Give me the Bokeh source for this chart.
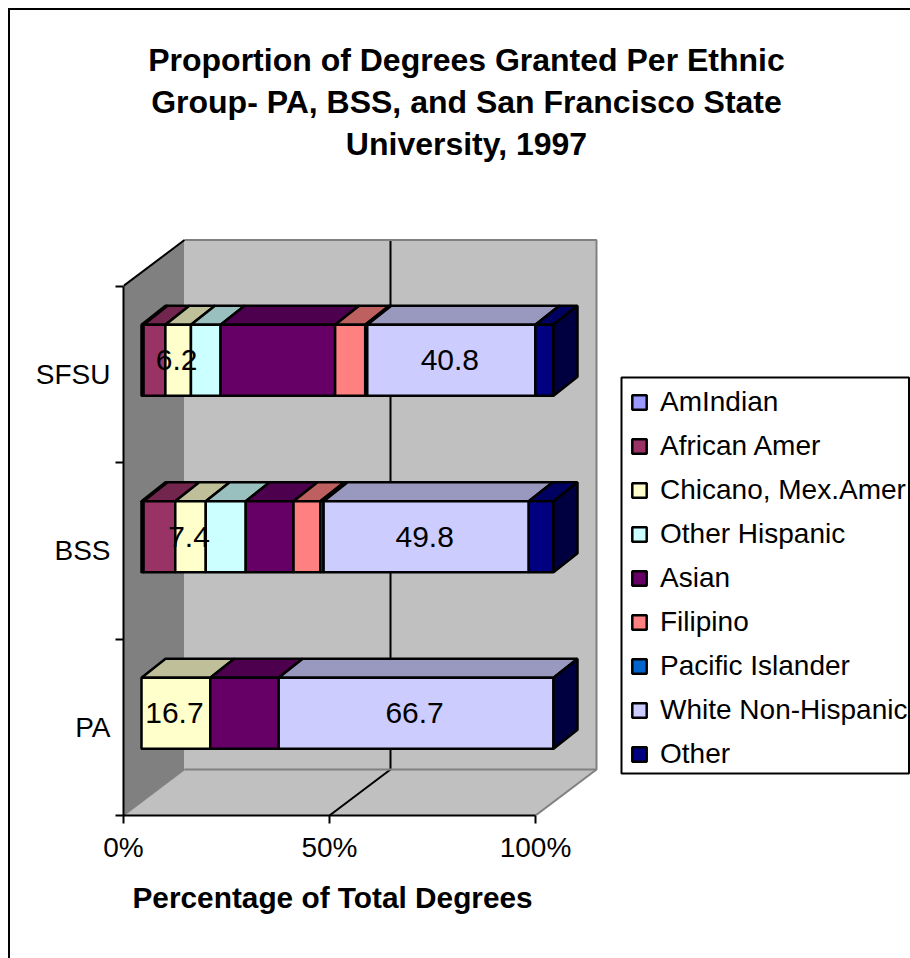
from bokeh.plotting import figure
from bokeh.models import Range1d, FixedTicker, Legend, LegendItem, Title
from bokeh.core.properties import value
from bokeh.embed import file_html
from bokeh.resources import INLINE

categories = ["PA", "BSS", "SFSU"]
series_names = ["AmIndian", "African Amer", "Chicano, Mex.Amer", "Other Hispanic", "Asian",
                "Filipino", "Pacific Islander", "White Non-Hispanic", "Other"]
am_indian = [0, 0.5, 0.5]
african_amer = [0, 7.7, 5.3]
chicano = [16.7, 7.4, 6.2]
other_hispanic = [0, 9.7, 7.2]
asian = [16.6, 11.6, 27.8]
filipino = [0, 6.5, 7.3]
pacific_islander = [0, 0.8, 0.5]
white = [66.7, 49.8, 40.8]
other = [0, 6.0, 4.4]
all_series = [am_indian, african_amer, chicano, other_hispanic, asian, filipino,
              pacific_islander, white, other]
front_colors = ["#9999FF", "#993366", "#FFFFCC", "#CCFFFF", "#660066", "#FF8080", "#0066CC", "#CCCCFF", "#000080"]
top_colors = ["#7373BF", "#73264D", "#BFBF99", "#99BFBF", "#4D004D", "#BF6060", "#004D99", "#9999BF", "#000060"]
side_color = "#000040"
labelled_series = [2, 7]
title_lines = ["Proportion of Degrees Granted Per Ethnic",
               "Group- PA, BSS, and San Francisco State",
               "University, 1997"]
x_ticks = [0, 50, 100]

FONT = "Liberation Sans"
W, H = 910, 958
PX_X = 4.12     # px per percent
PX_Y = 176.5    # px per category band
LEFT, BASE = 123, 815   # px of the origin


def dx(px):
    return px / PX_X


def dy(px):
    return px / PX_Y


def sx(px):
    return (px - LEFT) / PX_X


def sy(py):
    return (BASE - py) / PX_Y


wall_dx, wall_dy = dx(61), dy(46)
off_x, off_y = dx(18), dy(14)
bar_dx, bar_dy = dx(24), dy(19)
half_h = dy(35.5)
BAR_LW = 2.5

p = figure(width=W, height=H, output_backend="svg", toolbar_location=None,
           x_range=Range1d(0, (W - LEFT) / PX_X), y_range=Range1d(0, BASE / PX_Y),
           min_border_left=LEFT, min_border_bottom=H - BASE, min_border_top=0, min_border_right=0,
           background_fill_color=None, border_fill_color=None, outline_line_color=None)
p.styles = {"background-image": "linear-gradient(black,black),linear-gradient(black,black)",
            "background-size": "2px 100%, 100% 2px",
            "background-position": "8px 8px, 8px 8px",
            "background-repeat": "no-repeat"}
p.xgrid.visible = False
p.ygrid.visible = False

n = len(categories)
top_w = n + wall_dy
# walls and floor
p.patch([0, wall_dx, wall_dx, 0], [n, top_w, wall_dy, 0], fill_color="#808080", line_color=None)
p.patch([wall_dx, 100 + wall_dx, 100 + wall_dx, wall_dx], [wall_dy, wall_dy, top_w, top_w], fill_color="#C0C0C0", line_color=None)
p.patch([0, 100, 100 + wall_dx, wall_dx], [0, 0, wall_dy, wall_dy], fill_color="#C0C0C0", line_color=None)
# 50% gridline
p.line([50, 50 + wall_dx, 50 + wall_dx], [0, wall_dy, top_w], line_color="black", line_width=2)
# wall edges
p.line([wall_dx, 100 + wall_dx, 100 + wall_dx, wall_dx], [top_w, top_w, wall_dy, wall_dy], line_color="#808080", line_width=2)
p.line([0, wall_dx], [0, wall_dy], line_color="#808080", line_width=1.5)
p.line([100, 100 + wall_dx], [0, wall_dy], line_color="#808080", line_width=2)
p.line([0, wall_dx], [n, top_w], line_color="black", line_width=2)

# bars
legend_items = []
cum = [0.0] * n
label_xs, label_ys, label_txt = [], [], []
for s, vals in enumerate(all_series):
    lefts, rights, tops, bottoms = [], [], [], []
    txs, tys = [], []
    for i, v in enumerate(vals):
        if v <= 0:
            continue
        c = i + 0.5 + off_y
        l, r = cum[i] + off_x, cum[i] + v + off_x
        lefts.append(l); rights.append(r); tops.append(c + half_h); bottoms.append(c - half_h)
        txs.append([l, r, r + bar_dx, l + bar_dx])
        tys.append([c + half_h, c + half_h, c + half_h + bar_dy, c + half_h + bar_dy])
        if s in labelled_series:
            label_xs.append((l + r) / 2 - dx(1.5)); label_ys.append(c); label_txt.append(f"{v:.1f}")
    for i, v in enumerate(vals):
        cum[i] += v
    p.patches(txs, tys, fill_color=top_colors[s], line_color="black", line_width=BAR_LW)
    r_front = p.quad(left=lefts, right=rights, top=tops, bottom=bottoms,
                     fill_color=front_colors[s], line_color="black", line_width=BAR_LW)
    legend_items.append(LegendItem(label=series_names[s], renderers=[r_front]))

for i in range(n):
    c = i + 0.5 + off_y
    r = cum[i] + off_x
    p.patch([r, r + bar_dx, r + bar_dx, r],
            [c - half_h, c - half_h + bar_dy, c + half_h + bar_dy, c + half_h],
            fill_color=side_color, line_color="black", line_width=BAR_LW)

p.text(label_xs, label_ys, text=label_txt, text_font=value(FONT), text_font_size="30px",
       text_align="center", text_baseline="middle", text_color="black")

# title
for line, py in zip(title_lines, [59, 101, 143]):
    p.text([sx(466)], [sy(py)], text=[line], text_font=value(FONT), text_font_size="32px",
           text_font_style="bold", text_align="center", text_baseline="middle", text_color="black")

# axes
xa = p.xaxis[0]
xa.ticker = FixedTicker(ticks=x_ticks)
xa.bounds = (0, 100)
xa.major_label_overrides = {t: f"{t}%" for t in x_ticks}
xa.major_label_text_font = FONT
xa.major_label_text_font_size = "28px"
xa.major_label_text_color = "black"
xa.major_label_standoff = 8
xa.major_tick_out = 8
xa.major_tick_in = 0
xa.major_tick_line_width = 2
xa.minor_tick_line_color = None
xa.axis_line_width = 2
xa.axis_line_color = "black"
xa.major_tick_line_color = "black"

p.add_layout(Title(text="Percentage of Total Degrees", align="left", offset=9, standoff=26,
                   text_font=FONT, text_font_size="29.8px", text_font_style="bold", text_color="black"), "below")

ya = p.yaxis[0]
ya.ticker = FixedTicker(ticks=[0.5, 1.5, 2.5], minor_ticks=[0, 1, 2, 3])
ya.bounds = (0, 3)
ya.major_label_overrides = {i + 0.5: c for i, c in enumerate(categories)}
ya.major_label_text_font = FONT
ya.major_label_text_font_size = "28px"
ya.major_label_text_color = "black"
ya.major_label_standoff = 5
ya.major_tick_out = 0
ya.major_tick_in = 0
ya.major_tick_line_color = None
ya.minor_tick_out = 8
ya.minor_tick_in = 0
ya.minor_tick_line_color = "black"
ya.minor_tick_line_width = 2
ya.axis_line_width = 2
ya.axis_line_color = "black"

# legend box and legend
p.quad(left=[sx(621)], right=[sx(908.5)], top=[sy(377)], bottom=[sy(773)],
       fill_color="white", line_color="black", line_width=2)
legend = Legend(items=legend_items, location=(630 - LEFT, 45), orientation="vertical",
                padding=0, margin=0, spacing=12, glyph_width=18, glyph_height=18, label_standoff=12,
                label_text_font=FONT, label_text_font_size="28px", label_text_color="black",
                label_height=32, border_line_color=None, background_fill_alpha=0)
p.add_layout(legend)

open("out.html", "w").write(file_html(p, INLINE))
